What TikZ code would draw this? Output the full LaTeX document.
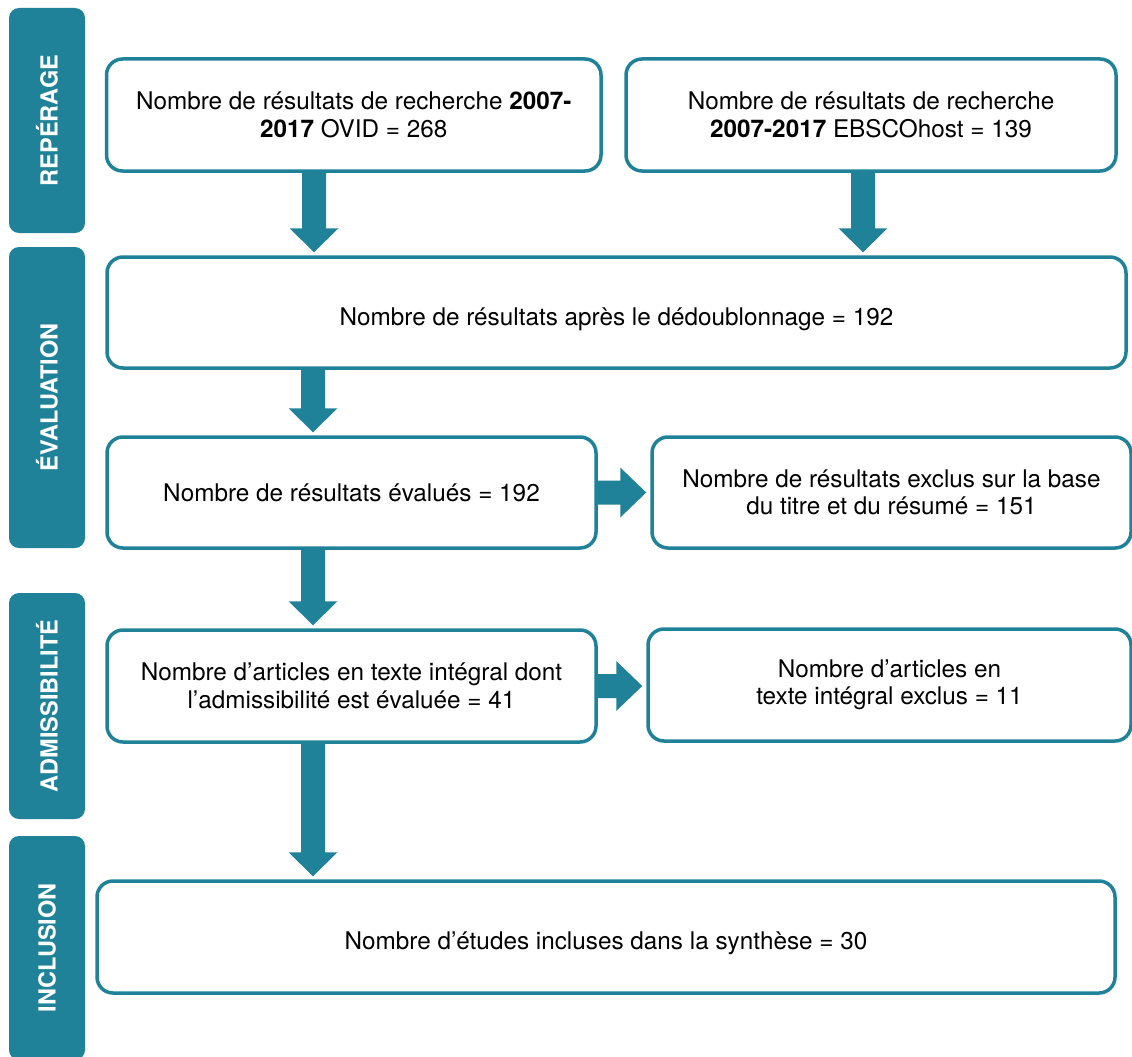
\documentclass[tikz,border=0pt]{standalone}
\usepackage{fontspec}
\setmainfont{TeX Gyre Heros}
\usetikzlibrary{calc}
\definecolor{teal1}{HTML}{1F8299}
\newcommand{\blkdown}[3]{%
  \fill[teal1] ($(#1 -| #3)+(-12,0)$) -- ($(#1 -| #3)+(12,0)$)
    -- ($(#2 -| #3)+(12,-27)$) -- ($(#2 -| #3)+(24.5,-27)$)
    -- ($(#2 -| #3)+(0,-3)$) -- ($(#2 -| #3)+(-24.5,-27)$)
    -- ($(#2 -| #3)+(-12,-27)$) -- cycle;}
\newcommand{\blkright}[3]{%
  \fill[teal1] ($(#3 -| #1)+(0,-12)$) -- ($(#3 -| #1)+(0,12)$)
    -- ($(#3 -| #2)+(-30,12)$) -- ($(#3 -| #2)+(-30,25)$)
    -- ($(#3 -| #2)+(-4,0)$) -- ($(#3 -| #2)+(-30,-25)$)
    -- ($(#3 -| #2)+(-30,-12)$) -- cycle;}
\begin{document}
\begin{tikzpicture}[x=1pt,y=-1pt,
  box/.style={draw=teal1, line width=3.5pt, rounded corners=16pt, fill=white,
    align=center, inner sep=0pt, font=\fontsize{24.3}{27.5}\selectfont},
  sidebar/.style={fill=teal1, rounded corners=10pt, rotate=90, text=white,
    minimum height=76pt, inner sep=0pt, font=\fontsize{23.5}{26}\selectfont\bfseries},
]
\useasboundingbox (0,0) rectangle (1132,1057);
\clip (0,0) rectangle (1132,1057);

% side bars
\node[sidebar, minimum width=225pt] (s1) at (47,120.5) {REPÉRAGE};
\node[sidebar, minimum width=301pt] (s2) at (47,397.5) {ÉVALUATION};
\node[sidebar, minimum width=226pt] (s3) at (47,706) {ADMISSIBILITÉ};
\node[sidebar, minimum width=224pt] (s4) at (47,948) {INCLUSION};

% boxes
\node[box, minimum width=494.5pt, minimum height=112pt] (b1) at (353.75,115)
  {Nombre de résultats de recherche \textbf{2007-}\\\textbf{2017} OVID = 268};
\node[box, minimum width=490pt, minimum height=112pt] (b2) at (871,115)
  {Nombre de résultats de recherche\\\textbf{2007-2017} EBSCOhost = 139};
\node[box, minimum width=1019pt, minimum height=111pt, text height=26pt, text depth=0pt] (b3) at (616.5,312.5)
  {Nombre de résultats après le dédoublonnage = 192};
\node[box, minimum width=489pt, minimum height=111pt] (b4) at (351.5,492.5)
  {Nombre de résultats évalués = 192};
\node[box, minimum width=479pt, minimum height=111pt] (b5) at (891.5,492.5)
  {Nombre de résultats exclus sur la base\\du titre et du résumé = 151};
\node[box, minimum width=489pt, minimum height=112pt] (b6) at (351.5,686)
  {Nombre d’articles en texte intégral dont\\l’admissibilité est évaluée = 41};
\node[box, minimum width=483pt, minimum height=112pt] (b7) at (889.5,685)
  {Nombre d’articles en\\texte intégral exclus = 11};
\node[box, minimum width=1018pt, minimum height=112pt, text height=24.5pt, text depth=0pt] (b8) at (606,937)
  {Nombre d’études incluses dans la synthèse = 30};

% arrow axes
\coordinate (ax1) at (314,0);
\coordinate (ax2) at (863,0);
\coordinate (ax3) at (313,0);

% arrows
\blkdown{b1.south}{b3.north}{ax1}
\blkdown{b2.south}{b3.north}{ax2}
\blkdown{b3.south}{b4.north}{ax3}
\blkdown{b4.south}{b6.north}{ax3}
\blkdown{b6.south}{b8.north}{ax3}
\blkright{b4.east}{b5.west}{b4.center}
\blkright{b6.east}{b7.west}{b6.center}
\end{tikzpicture}
\end{document}
